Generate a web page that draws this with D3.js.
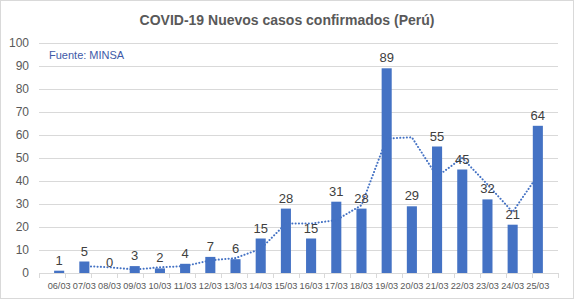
<!DOCTYPE html>
<html>
<head>
<meta charset="utf-8">
<script src="https://cdn.jsdelivr.net/npm/d3@7"></script>
<style>
  body { margin: 0; background: #fff; }
  svg { display: block; font-family: "Liberation Sans", Arial, sans-serif; }
</style>
</head>
<body>
<svg id="chart" width="574" height="299"></svg>
<script>
// data
var fechas = ["06/03","07/03","08/03","09/03","10/03","11/03","12/03","13/03","14/03","15/03",
              "16/03","17/03","18/03","19/03","20/03","21/03","22/03","23/03","24/03","25/03"];
var casos = [1, 5, 0, 3, 2, 4, 7, 6, 15, 28, 15, 31, 28, 89, 29, 55, 45, 32, 21, 64];
// dotted trend line (starts at 07/03)
var tendencia = [null, 3, 2.5, 1.5, 2.5, 3, 5.5, 6.5, 10.5, 21.5, 21.5, 23, 29.5, 58.5, 59, 42, 50, 38.5, 26.5, 42.5];
var yTicks = [0, 10, 20, 30, 40, 50, 60, 70, 80, 90, 100];

var svg = d3.select("svg#chart"),
  margin = {top: 43, right: 16, bottom: 26, left: 39},
  width = 574 - margin.left - margin.right,
  height = 299 - margin.top - margin.bottom;

svg.append("rect")
  .attr("x", 0.5).attr("y", 0.5)
  .attr("width", 573).attr("height", 298)
  .attr("fill", "#fff")
  .attr("stroke", "#d9d9d9");

svg.append("text")
  .attr("x", 287).attr("y", 25)
  .attr("text-anchor", "middle")
  .style("font", "bold 14px 'Liberation Sans', Arial, sans-serif")
  .attr("fill", "#595959")
  .text("COVID-19 Nuevos casos confirmados (Perú)");

var x = d3.scaleBand().domain(fechas).range([0, width]).padding(0.6),
  y = d3.scaleLinear().domain([0, 100]).range([height, 0]);

var g = svg.append("g")
  .attr("transform", "translate(" + margin.left + "," + margin.top + ")");

// grid
g.append("g")
  .selectAll("line")
  .data(yTicks.slice(1))
  .enter().append("line")
  .attr("x1", 0).attr("x2", width)
  .attr("y1", function(d) { return Math.round(y(d)) + 0.5; })
  .attr("y2", function(d) { return Math.round(y(d)) + 0.5; })
  .attr("stroke", "#d9d9d9");

// y labels
g.append("g")
  .call(d3.axisLeft(y).tickValues(yTicks).tickSize(0).tickPadding(10))
  .call(function(a) {
    a.select(".domain").remove();
    a.selectAll("text").attr("fill", "#595959")
      .style("font", "12px 'Liberation Sans', Arial, sans-serif");
  });

// bars
g.selectAll(".bar")
  .data(casos)
  .enter().append("rect")
  .attr("class", "bar")
  .attr("x", function(d, i) { return x(fechas[i]); })
  .attr("y", function(d) { return y(d); })
  .attr("width", x.bandwidth())
  .attr("height", function(d) { return height - y(d); })
  .attr("fill", "#4472c4");

// trend
var line = d3.line()
  .defined(function(d) { return d != null; })
  .x(function(d, i) { return x(fechas[i]) + x.bandwidth() / 2; })
  .y(function(d) { return y(d); });

g.append("path")
  .datum(tendencia)
  .attr("d", line)
  .attr("fill", "none")
  .attr("stroke", "#4472c4")
  .attr("stroke-width", 2)
  .attr("stroke-linecap", "round")
  .attr("stroke-dasharray", "0.1,3.2");

// bar labels
g.selectAll(".lbl")
  .data(casos)
  .enter().append("text")
  .attr("class", "lbl")
  .attr("x", function(d, i) { return x(fechas[i]) + x.bandwidth() / 2; })
  .attr("y", function(d) { return y(d) - 6; })
  .attr("text-anchor", "middle")
  .attr("fill", "#404040")
  .style("font", "13px 'Liberation Sans', Arial, sans-serif")
  .text(function(d) { return d; });

// x axis
var xBound = d3.scaleLinear().domain([0, fechas.length]).range([0, width]);
var xa = g.append("g").attr("transform", "translate(0," + height + ")");
xa.append("line")
  .attr("x1", 0).attr("x2", width)
  .attr("y1", 0.5).attr("y2", 0.5)
  .attr("stroke", "#d9d9d9");
xa.selectAll(".tk")
  .data(d3.range(fechas.length + 1))
  .enter().append("line")
  .attr("x1", function(d) { return Math.round(xBound(d)) + 0.5; })
  .attr("x2", function(d) { return Math.round(xBound(d)) + 0.5; })
  .attr("y1", 0).attr("y2", 5)
  .attr("stroke", "#d9d9d9");
xa.selectAll(".xl")
  .data(fechas)
  .enter().append("text")
  .attr("x", function(d) { return x(d) + x.bandwidth() / 2; })
  .attr("y", 16)
  .attr("text-anchor", "middle")
  .attr("fill", "#595959")
  .attr("textLength", 23)
  .attr("lengthAdjust", "spacingAndGlyphs")
  .style("font", "9.5px 'Liberation Sans', Arial, sans-serif")
  .text(function(d) { return d; });

svg.append("text")
  .attr("x", 49).attr("y", 59)
  .attr("fill", "#3e5aa8")
  .style("font", "11px 'Liberation Sans', Arial, sans-serif")
  .text("Fuente: MINSA");
</script>
</body>
</html>
